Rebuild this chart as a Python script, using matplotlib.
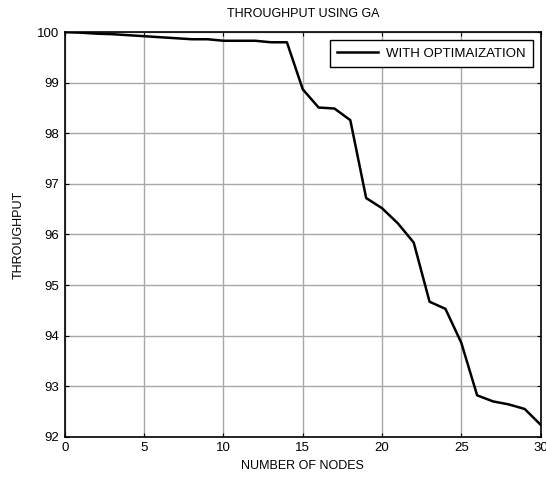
"""
Throughput vs number of nodes (GA)
"""

import matplotlib
matplotlib.use("Agg")
import matplotlib.pyplot as plt

plt.rcParams['font.family'] = ['Liberation Sans', 'DejaVu Sans']

nodes = list(range(0, 31))
throughput = [100.00, 99.99, 99.97, 99.96, 99.94, 99.92, 99.90, 99.88, 99.86, 99.86,
              99.83, 99.83, 99.83, 99.80, 99.80, 98.87, 98.51, 98.49, 98.26, 96.72,
              96.52, 96.22, 95.84, 94.67, 94.53, 93.86, 92.82, 92.70, 92.64, 92.55,
              92.24]

fig = plt.figure(figsize=(5.46, 4.8), dpi=100)
ax = fig.add_axes([0.119, 0.09, 0.871, 0.843])

ax.plot(nodes, throughput, color='black', linewidth=1.8, label='WITH OPTIMAIZATION')

ax.set_xlim(0, 30)
ax.set_ylim(92, 100)
ax.set_xticks(range(0, 31, 5))
ax.set_yticks(range(92, 101))
ax.grid(True, color='#a8a8a8', linewidth=1)
ax.tick_params(direction='in', top=True, right=True, length=3, labelsize=9.5)
ax.tick_params(axis='x', pad=4)
ax.tick_params(axis='y', pad=4)
for s in ax.spines.values():
    s.set_linewidth(1.2)

ax.set_title('THROUGHPUT USING GA', fontsize=9, pad=11)
ax.set_xlabel('NUMBER OF NODES', fontsize=9, labelpad=4)
ax.set_ylabel('THROUGHPUT', fontsize=9, labelpad=9)

leg = ax.legend(loc='upper right', fontsize=9.5, fancybox=False, framealpha=1,
                edgecolor='black', borderaxespad=0.6, handlelength=3.1,
                handletextpad=0.6, borderpad=0.55)
leg.get_frame().set_linewidth(1)

fig.savefig('out.png', dpi=100)
